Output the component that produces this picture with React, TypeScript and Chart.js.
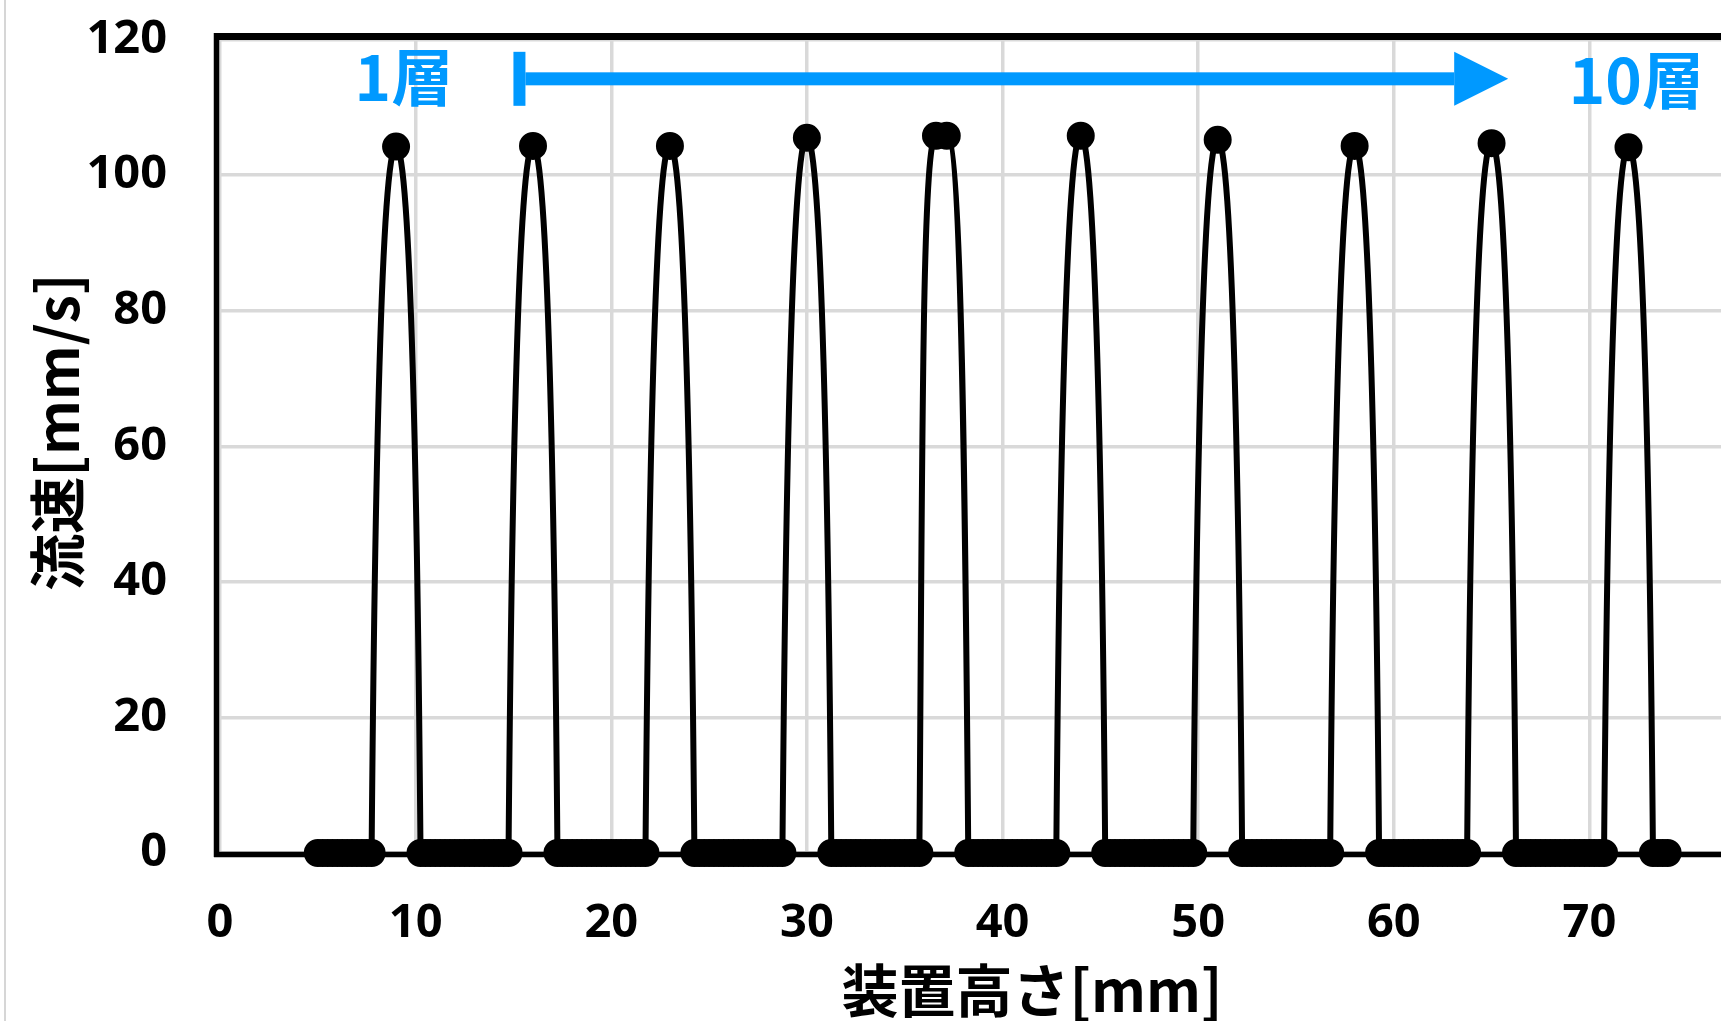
import React, { useEffect, useRef } from 'react';
import { Chart, registerables } from 'chart.js';

Chart.register(...registerables);

// ---- data ----
const xTickStep = 10;
const xMin = 0;
const xMax = 80;
const yMin = 0;
const yMax = 120;
const yTickStep = 20;

// tops of each layer's flow peak (layer 5 has two top samples)
const layerTopX: number[][] = [[9], [16], [23], [30], [36.6, 37.15], [44], [51], [58], [65], [72]];
const layerTopY: number[][] = [[104.2], [104.3], [104.3], [105.5], [105.8, 105.8], [105.8], [105.2], [104.3], [104.7], [104.1]];

// zero-velocity samples between layers
const gap0 = [5, 5.25, 5.5, 5.75, 6, 6.25, 6.5, 6.75, 7, 7.25, 7.5, 7.75];
const gap1 = [10.25, 10.5, 10.75, 11, 11.25, 11.5, 11.75, 12, 12.25, 12.5, 12.75, 13, 13.25, 13.5, 13.75, 14, 14.25, 14.5, 14.75];
const gap2 = [17.25, 17.5, 17.75, 18, 18.25, 18.5, 18.75, 19, 19.25, 19.5, 19.75, 20, 20.25, 20.5, 20.75, 21, 21.25, 21.5, 21.75];
const gap3 = [24.25, 24.5, 24.75, 25, 25.25, 25.5, 25.75, 26, 26.25, 26.5, 26.75, 27, 27.25, 27.5, 27.75, 28, 28.25, 28.5, 28.75];
const gap4 = [31.25, 31.5, 31.75, 32, 32.25, 32.5, 32.75, 33, 33.25, 33.5, 33.75, 34, 34.25, 34.5, 34.75, 35, 35.25, 35.5, 35.75];
const gap5 = [38.25, 38.5, 38.75, 39, 39.25, 39.5, 39.75, 40, 40.25, 40.5, 40.75, 41, 41.25, 41.5, 41.75, 42, 42.25, 42.5, 42.75];
const gap6 = [45.25, 45.5, 45.75, 46, 46.25, 46.5, 46.75, 47, 47.25, 47.5, 47.75, 48, 48.25, 48.5, 48.75, 49, 49.25, 49.5, 49.75];
const gap7 = [52.25, 52.5, 52.75, 53, 53.25, 53.5, 53.75, 54, 54.25, 54.5, 54.75, 55, 55.25, 55.5, 55.75, 56, 56.25, 56.5, 56.75];
const gap8 = [59.25, 59.5, 59.75, 60, 60.25, 60.5, 60.75, 61, 61.25, 61.5, 61.75, 62, 62.25, 62.5, 62.75, 63, 63.25, 63.5, 63.75];
const gap9 = [66.25, 66.5, 66.75, 67, 67.25, 67.5, 67.75, 68, 68.25, 68.5, 68.75, 69, 69.25, 69.5, 69.75, 70, 70.25, 70.5, 70.75];
const gap10 = [73.25, 73.5, 73.75, 74];
const gaps = [gap0, gap1, gap2, gap3, gap4, gap5, gap6, gap7, gap8, gap9, gap10];

const xTitle = '装置高さ[mm]';
const yTitle = '流速[mm/s]';
const firstLayerLabel = '1層';
const lastLayerLabel = '10層';
// annotation anchors in data units
const firstLabelPos = { x: 9.4, y: 114.4 };
const lastLabelPos = { x: 72.4, y: 113.9 };
const arrowFrom = { x: 15.0, y: 114.2 };
const arrowTo = { x: 65.85, y: 114.2 };

const BLUE = '#0099FF';
const CJK = '"Noto Sans CJK JP", "Noto Sans CJK SC", sans-serif';

// smoothing shape (Excel-like rounded peaks)
const TOP_HANDLE = 0.75; // x units
const BASE_HANDLE = 0.5; // fraction of rise
const BASE_LEAN = 0.15; // x units

function buildPoints() {
  const pts: { x: number; y: number }[] = [];
  gaps.forEach((g, i) => {
    g.forEach((x) => pts.push({ x, y: 0 }));
    if (i < layerTopX.length) {
      layerTopX[i].forEach((x, j) => pts.push({ x, y: layerTopY[i][j] }));
    }
  });
  return pts;
}

const shapePlugin = {
  id: 'peakShape',
  beforeDatasetDraw(chart: any, args: any) {
    const meta = chart.getDatasetMeta(args.index);
    const line = meta.dataset;
    if (!line) return;
    line.updateControlPoints(chart.chartArea, 'x');
    const pts = meta.data;
    const xs = chart.scales.x;
    const unit = xs.getPixelForValue(1) - xs.getPixelForValue(0);
    const base = chart.scales.y.getPixelForValue(0);
    const isUp = (p: any) => p && p.y < base - 1;
    for (let i = 0; i < pts.length; i++) {
      const p = pts[i];
      const prev = pts[i - 1];
      const next = pts[i + 1];
      if (isUp(p)) {
        let h1 = TOP_HANDLE * unit;
        let h2 = TOP_HANDLE * unit;
        if (isUp(prev)) h1 = (p.x - prev.x) / 3;
        if (isUp(next)) h2 = (next.x - p.x) / 3;
        p.cp1x = p.x - h1;
        p.cp1y = p.y;
        p.cp2x = p.x + h2;
        p.cp2y = p.y;
      } else {
        if (isUp(next)) {
          p.cp2x = p.x + BASE_LEAN * unit;
          p.cp2y = p.y - BASE_HANDLE * (p.y - next.y);
        }
        if (isUp(prev)) {
          p.cp1x = p.x - BASE_LEAN * unit;
          p.cp1y = p.y - BASE_HANDLE * (p.y - prev.y);
        }
      }
    }
  },
};

const decorPlugin = {
  id: 'decor',
  beforeDatasetsDraw(chart: any) {
    const { ctx, chartArea: a } = chart;
    ctx.save();
    ctx.strokeStyle = '#000';
    ctx.lineCap = 'butt';
    ctx.lineWidth = 7;
    ctx.beginPath();
    ctx.moveTo(a.left - 6, a.top - 3);
    ctx.lineTo(a.right + 6, a.top - 3);
    ctx.stroke();
    ctx.lineWidth = 5.5;
    ctx.beginPath();
    ctx.moveTo(a.left - 3.5, a.top - 6.5);
    ctx.lineTo(a.left - 3.5, a.bottom + 4);
    ctx.stroke();
    ctx.beginPath();
    ctx.moveTo(a.left - 6, a.bottom + 1.5);
    ctx.lineTo(a.right + 6, a.bottom + 1.5);
    ctx.stroke();
    ctx.restore();
  },
  afterDraw(chart: any) {
    const { ctx } = chart;
    const xs = chart.scales.x;
    const ys = chart.scales.y;
    ctx.save();
    ctx.fillStyle = '#d6d6d6';
    ctx.fillRect(4, 0, 2, chart.height);

    const x0 = xs.getPixelForValue(arrowFrom.x);
    const x1 = xs.getPixelForValue(arrowTo.x);
    const yA = ys.getPixelForValue(arrowFrom.y);
    ctx.fillStyle = BLUE;
    ctx.fillRect(x0, yA - 27, 12, 54);
    const headLen = 54;
    ctx.fillRect(x0 + 12, yA - 6.5, x1 - headLen - x0 - 12, 13);
    ctx.beginPath();
    ctx.moveTo(x1 - headLen, yA - 27);
    ctx.lineTo(x1, yA);
    ctx.lineTo(x1 - headLen, yA + 27);
    ctx.closePath();
    ctx.fill();

    ctx.font = `bold 62px ${CJK}`;
    ctx.textAlign = 'center';
    ctx.textBaseline = 'middle';
    ctx.fillText(firstLayerLabel, xs.getPixelForValue(firstLabelPos.x), ys.getPixelForValue(firstLabelPos.y));
    ctx.fillText(lastLayerLabel, xs.getPixelForValue(lastLabelPos.x), ys.getPixelForValue(lastLabelPos.y));

    ctx.fillStyle = '#000';
    ctx.font = `bold 57px ${CJK}`;
    ctx.fillText(xTitle, 1032, 990);
    ctx.translate(57, 432);
    ctx.rotate(-Math.PI / 2);
    ctx.fillText(yTitle, 0, 0);
    ctx.restore();
  },
};

export default function App() {
  const ref = useRef<HTMLCanvasElement | null>(null);
  useEffect(() => {
    if (!ref.current) return;
    const tickFont = { family: '"Open Sans", "Noto Sans", sans-serif', size: 47, weight: 'bold' as const, lineHeight: 1.2 };
    const chart = new Chart(ref.current, {
      type: 'line',
      data: {
        datasets: [
          {
            data: buildPoints(),
            borderColor: '#000',
            borderWidth: 6,
            backgroundColor: '#000',
            pointBackgroundColor: '#000',
            pointBorderColor: '#000',
            pointRadius: 13,
            pointBorderWidth: 2,
            tension: 0.4,
            fill: false,
            clip: false as any,
          },
        ],
      },
      options: {
        animation: false,
        responsive: false,
        devicePixelRatio: 1,
        events: [],
        layout: { padding: { top: 39.5, right: 15, bottom: 0, left: 0 } },
        plugins: { legend: { display: false }, tooltip: { enabled: false } },
        scales: {
          x: {
            type: 'linear',
            min: xMin,
            max: xMax,
            ticks: { stepSize: xTickStep, font: tickFont, color: '#000', padding: 42, maxRotation: 0, autoSkip: false },
            grid: { color: '#d9d9d9', lineWidth: 3.5, drawTicks: false, tickLength: 0 },
            border: { display: false },
            afterFit: (s: any) => {
              s.height = 168;
              s.paddingLeft = 0;
              s.paddingRight = 0;
            },
          },
          y: {
            type: 'linear',
            min: yMin,
            max: yMax,
            ticks: { stepSize: yTickStep, font: tickFont, color: '#000', padding: 53, autoSkip: false },
            grid: { color: '#d9d9d9', lineWidth: 3.5, drawTicks: false, tickLength: 0 },
            border: { display: false },
            afterFit: (s: any) => {
              s.width = 220;
              s.paddingTop = 0;
              s.paddingBottom = 0;
            },
          },
        },
      },
      plugins: [shapePlugin, decorPlugin],
    });
    return () => chart.destroy();
  }, []);
  return (
    <div style={{ position: 'fixed', left: 0, top: 0, width: 1721, height: 1021, overflow: 'hidden', background: '#fff' }}>
      <canvas ref={ref} width={1800} height={1021} style={{ display: 'block' }} />
    </div>
  );
}
